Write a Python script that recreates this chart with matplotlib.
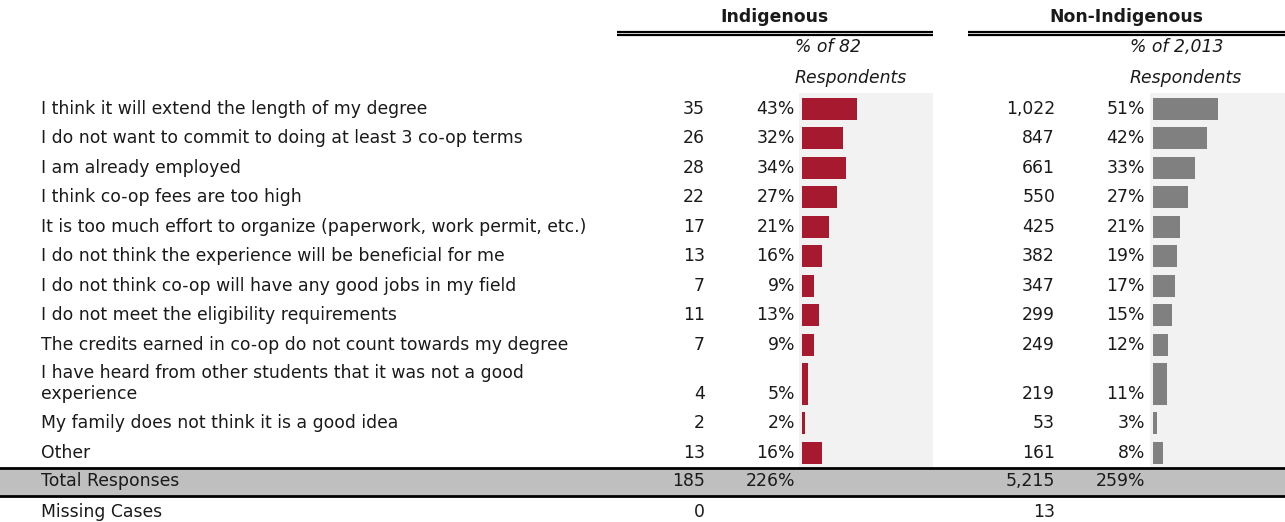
import matplotlib.pyplot as plt
from matplotlib.patches import Rectangle

# data
labels = [
    "I think it will extend the length of my degree",
    "I do not want to commit to doing at least 3 co-op terms",
    "I am already employed",
    "I think co-op fees are too high",
    "It is too much effort to organize (paperwork, work permit, etc.)",
    "I do not think the experience will be beneficial for me",
    "I do not think co-op will have any good jobs in my field",
    "I do not meet the eligibility requirements",
    "The credits earned in co-op do not count towards my degree",
    "I have heard from other students that it was not a good\nexperience",
    "My family does not think it is a good idea",
    "Other",
]
ind_counts = [35, 26, 28, 22, 17, 13, 7, 11, 7, 4, 2, 13]
ind_pct = [43, 32, 34, 27, 21, 16, 9, 13, 9, 5, 2, 16]
non_counts = [1022, 847, 661, 550, 425, 382, 347, 299, 249, 219, 53, 161]
non_pct = [51, 42, 33, 27, 21, 19, 17, 15, 12, 11, 3, 8]
totals = {"Indigenous": (185, 226), "Non-Indigenous": (5215, 259)}
missing = {"Indigenous": 0, "Non-Indigenous": 13}
respondents = {"Indigenous": 82, "Non-Indigenous": 2013}

W, H = 1285, 522
RED = "#a6192e"
GREY = "#808080"
PANEL = "#f2f2f2"
TXT = "#1a1a1a"
FS = 12.4

plt.rcParams["text.color"] = TXT
plt.rcParams["font.family"] = ["DejaVu Sans"]

fig = plt.figure(figsize=(W / 100, H / 100), dpi=100)
ax = fig.add_axes([0, 0, 1, 1])
ax.set_xlim(0, W)
ax.set_ylim(H, 0)
ax.axis("off")

# row layout (pixels)
row_h = [29.5] * len(labels)
row_h[9] = 49
tops = [94]
for h in row_h[:-1]:
    tops.append(tops[-1] + h)
body_bottom = tops[-1] + row_h[-1]

groups = [
    # name, counts, pcts, colour, count right x, pct right x, bar x0, panel x0, panel x1, line x0, sub x
    ("Indigenous", ind_counts, ind_pct, RED, 705, 795, 802, 799, 933, 617, 795),
    ("Non-Indigenous", non_counts, non_pct, GREY, 1055, 1145, 1153, 1150, 1285, 968, 1130),
]
PX_PER_PCT = 1.28

for name, counts, pcts, color, cx, px, bx0, p0, p1, lx0, sx in groups:
    # header
    ax.text((lx0 + p1) / 2, 17, name, ha="center", va="center",
            fontsize=FS, fontweight="bold")
    ax.plot([lx0, p1], [31.5, 31.5], color="black", lw=1.6, solid_capstyle="butt")
    ax.plot([lx0, p1], [34.5, 34.5], color="black", lw=1.6, solid_capstyle="butt")
    ax.text(sx, 47, f"% of {respondents[name]:,}", ha="left", va="center",
            fontsize=FS, style="italic")
    ax.text(sx, 78, "Respondents", ha="left", va="center",
            fontsize=FS, style="italic")
    # panel background
    ax.add_patch(Rectangle((p0, 93), p1 - p0, body_bottom - 93,
                           facecolor=PANEL, edgecolor="none", zorder=0))
    # bar axes: x in percent, y in pixels
    bax = fig.add_axes([p0 / W, 0, (p1 - p0) / W, 1])
    bax.set_xlim(-(bx0 - p0) / PX_PER_PCT, (p1 - bx0) / PX_PER_PCT)
    bax.set_ylim(H, 0)
    bax.axis("off")
    centers = [t + h / 2 for t, h in zip(tops, row_h)]
    bax.barh(centers, pcts, height=[h - 7.5 for h in row_h], color=color, left=0)
    for i, (c, p) in enumerate(zip(counts, pcts)):
        y = centers[i] if row_h[i] < 40 else tops[i] + row_h[i] - 14.5
        ax.text(cx, y, f"{c:,}", ha="right", va="center", fontsize=FS)
        ax.text(px, y, f"{p}%", ha="right", va="center", fontsize=FS)
    tc, tp = totals[name]
    ax.text(cx, 481, f"{tc:,}", ha="right", va="center", fontsize=FS, zorder=3)
    ax.text(px, 481, f"{tp}%", ha="right", va="center", fontsize=FS, zorder=3)
    ax.text(cx, 512, f"{missing[name]:,}", ha="right", va="center", fontsize=FS)

for i, lab in enumerate(labels):
    if "\n" in lab:
        first, second = lab.split("\n")
        ax.text(41, tops[i] + 13, first, ha="left", va="center", fontsize=FS)
        ax.text(41, tops[i] + row_h[i] - 14.5, second, ha="left", va="center", fontsize=FS)
    else:
        ax.text(41, tops[i] + row_h[i] / 2, lab, ha="left", va="center", fontsize=FS)

# total row
ax.add_patch(Rectangle((0, body_bottom), W, 28, facecolor="#bfbfbf",
                       edgecolor="none", zorder=1))
ax.plot([0, W], [body_bottom, body_bottom], color="black", lw=2, zorder=2)
ax.plot([0, W], [body_bottom + 28, body_bottom + 28], color="black", lw=2, zorder=2)
ax.text(41, 481, "Total Responses", ha="left", va="center", fontsize=FS, zorder=3)
ax.text(41, 512, "Missing Cases", ha="left", va="center", fontsize=FS)

fig.savefig("out.png", dpi=100)
